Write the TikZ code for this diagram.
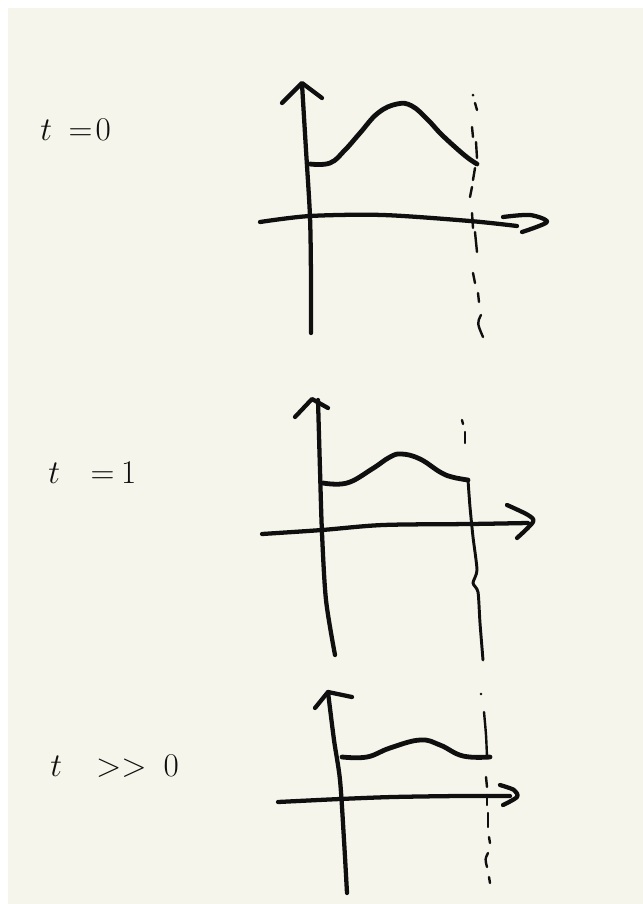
\documentclass[tikz,border=0pt]{standalone}
\usetikzlibrary{calc}
\definecolor{paper}{RGB}{245,245,235}
\definecolor{ink}{RGB}{15,15,15}
\tikzset{
  axis/.style={draw=ink,line width=3.2pt,line cap=round,line join=round},
  curvestroke/.style={draw=ink,line width=3.6pt,line cap=round,line join=round},
  dashseg/.style={draw=ink,line width=1.8pt,line cap=round},
  lbl/.style={anchor=base west,inner sep=0pt,text=ink,font=\fontsize{24}{28}\selectfont}
}
\begin{document}
\begin{tikzpicture}[x=0.75pt,y=-0.75pt]
\useasboundingbox (0,0) rectangle (643,904);
\fill[white] (0,0) rectangle (643,904);
\fill[paper] (8,8) rectangle (643,904);

% ---------- labels ----------
\node[lbl] (l0) at (40,140) {$t\hspace{5.6pt}=\hspace{-4.5pt}0$};
\node[lbl] (l1) at (48,483) {$t\hspace{16pt}=\hspace{-1.8pt}1$};
\node[lbl] (l2) at (50,776) {$t\hspace{18.7pt}>>\hspace{5.8pt}0$};

% ---------- panel 1 ----------
\draw[axis] plot[smooth] coordinates {(302,84) (306,150) (310,217) (311,280) (311,333)};
\draw[axis] (282,103) -- (302,83) -- (322,98);
\draw[axis] plot[smooth] coordinates {(260,222) (310,216) (383,215) (470,221) (517,226)};
\draw[axis] plot[smooth] coordinates {(503,217) (530,215) (547,222) (522,232)};
\draw[curvestroke] plot[smooth,tension=0.7] coordinates {(310,164) (330,163) (345,150) (360,133) (378,113) (397,104) (412,106) (428,120) (440,133) (455,147) (468,158) (477,164)};
\foreach \a/\b in {{(475,103)}/{(477,110)},{(472,127)}/{(473,137)},{(476,142)}/{(477,158)},{(475,168)}/{(473,180)},{(472,187)}/{(470,197)},{(472,213)}/{(473,228)},{(475,232)}/{(477,252)},{(473,273)}/{(475,283)},{(478,293)}/{(479,302)}}
  \draw[dashseg] \a -- \b;
\fill[ink] (473,95) circle (1.5);
\draw[dashseg] (481,315) .. controls (477,323) .. (483,337);

% ---------- panel 2 ----------
\draw[axis] plot[smooth] coordinates {(318,400) (320,470) (322,533) (326,600) (335,655)};
\draw[axis] (295,417) -- (312,399) -- (328,408);
\draw[axis] plot[smooth] coordinates {(262,534) (322,530) (383,525) (470,524) (528,523)};
\draw[axis] plot[smooth] coordinates {(507,505) (528,515) (533,522) (517,538)};
\draw[curvestroke] plot[smooth,tension=0.7] coordinates {(323,483) (347,483) (372,469) (390,457) (402,454) (420,459) (440,472) (452,477) (468,480)};
\draw[axis,line width=2.2pt] plot[smooth,tension=0.4] coordinates {(468,480) (470,507) (473,537) (477,570) (473,583) (478,592) (480,623) (483,660)};
\draw[dashseg] (462,420) -- (463,424);
\draw[dashseg] (465,432) -- (465,443);

% ---------- panel 3 ----------
\draw[axis] plot[smooth] coordinates {(328,692) (334,740) (340,780) (344,840) (347,893)};
\draw[axis] (315,708) -- (328,692) -- (352,697);
\draw[axis] plot[smooth] coordinates {(278,802) (340,799) (393,797) (460,796) (510,796)};
\draw[axis] plot[smooth] coordinates {(500,785) (514,790) (517,797) (503,805)};
\draw[curvestroke] plot[smooth,tension=0.7] coordinates {(342,757) (367,757) (390,748) (420,740) (440,745) (463,756) (490,757)};
\fill[ink] (481,694) circle (1.3);
\draw[dashseg] plot[smooth] coordinates {(484,712) (486,735) (487,757)};
\foreach \a/\b in {{(486,777)}/{(487,787)},{(487,795)}/{(487,805)},{(488,813)}/{(488,827)},{(489,837)}/{(490,843)},{(489,877)}/{(490,883)}}
  \draw[dashseg] \a -- \b;
\draw[dashseg] (488,853) .. controls (485,859) .. (487,867);
\end{tikzpicture}
\end{document}
